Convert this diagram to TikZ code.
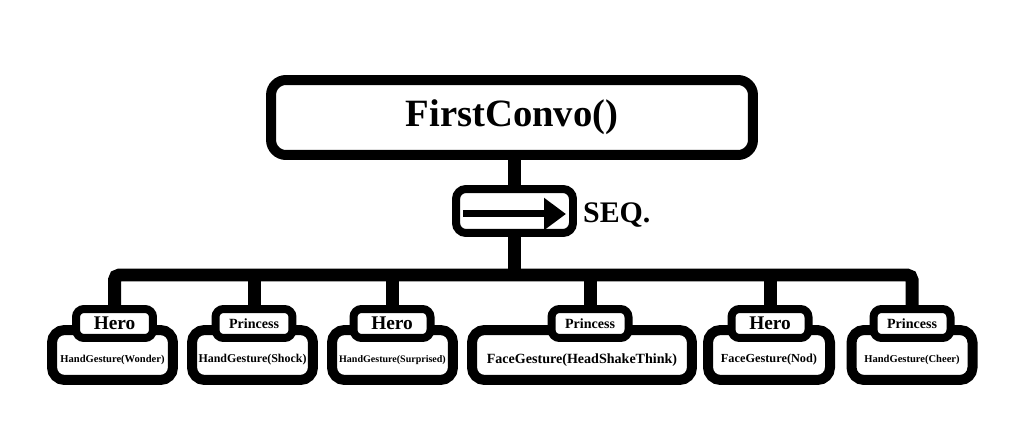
\documentclass[tikz,border=0pt]{standalone}
\usepackage{fontspec}
\setmainfont{Liberation Serif}
\usetikzlibrary{arrows.meta, positioning}

\newcommand{\fsz}[1]{\bfseries\fontsize{#1}{#1}\selectfont}
\newcommand{\lowered}[1]{\raisebox{-0.1cm}[\height][\depth]{#1}}

\begin{document}
\begin{tikzpicture}[x=0.02cm, y=-0.02cm,
  actbox/.style={draw, fill=white, line width=0.2cm, rounded corners=0.25cm, minimum height=1cm, inner sep=0pt},
  tagbox/.style={draw, fill=white, line width=0.16cm, rounded corners=0.16cm, minimum width=1.54cm, minimum height=0.58cm, inner sep=0pt},
  bar/.style={line width=0.26cm}]
\useasboundingbox (0,0) rectangle (1026,445);

\node[draw, line width=0.2cm, rounded corners=0.3cm, minimum width=9.64cm, minimum height=1.5cm, font=\fsz{22}] (conv) at (512,117.5) {FirstConvo()};
\node[draw, line width=0.16cm, rounded corners=0.2cm, minimum width=2.34cm, minimum height=0.88cm] (seq) at (514.5,211) {};
\draw[line width=0.14cm, -{Triangle[length=0.44cm, width=0.62cm]}] ([xshift=0.22cm, yshift=-0.06cm]seq.west) -- ([xshift=-0.22cm, yshift=-0.06cm]seq.east);
\node[right=0pt of seq, yshift=-0.08cm, font=\fsz{17}] (seqlabel) {SEQ.};

\coordinate (bus) at (514,275);

% actions
\node[actbox, minimum width=2.42cm, font=\fsz{6}] (g1) at (112.5,355) {\lowered{HandGesture(Wonder)}};
\node[actbox, minimum width=2.42cm, font=\fsz{6.8}] (g2) at (252.5,355) {\lowered{HandGesture(Shock)}};
\node[actbox, minimum width=2.42cm, font=\fsz{5.7}] (g3) at (392.5,355) {\lowered{HandGesture(Surprised)}};
\node[actbox, minimum width=4.4cm, font=\fsz{8}] (g4) at (582,355) {\lowered{FaceGesture(HeadShakeThink)}};
\node[actbox, minimum width=2.44cm, font=\fsz{7}] (g5) at (769,355) {\lowered{FaceGesture(Nod)}};
\node[actbox, minimum width=2.42cm, font=\fsz{6}] (g6) at (912,355) {\lowered{HandGesture(Cheer)}};

% who acts
\node[tagbox, font=\fsz{11}] (t1) at (114.5,323.5) {Hero};
\node[tagbox, font=\fsz{8}] (t2) at (254,323.5) {Princess};
\node[tagbox, font=\fsz{11}] (t3) at (392,323.5) {Hero};
\node[tagbox, font=\fsz{8}] (t4) at (590,323.5) {Princess};
\node[tagbox, font=\fsz{11}] (t5) at (770,323.5) {Hero};
\node[tagbox, font=\fsz{8}] (t6) at (912,323.5) {Princess};

\draw[line width=0.26cm] (seq.north |- conv.south) -- (seq.north);
\draw[line width=0.26cm] (seq.south) -- (seq.south |- bus);
\draw[bar, rounded corners=0.1cm] (t1.north) |- (bus) -| (t6.north);
\draw[bar] (t2.north) -- (t2.north |- bus);
\draw[bar] (t3.north) -- (t3.north |- bus);
\draw[bar] (t4.north) -- (t4.north |- bus);
\draw[bar] (t5.north) -- (t5.north |- bus);
\end{tikzpicture}
\end{document}
